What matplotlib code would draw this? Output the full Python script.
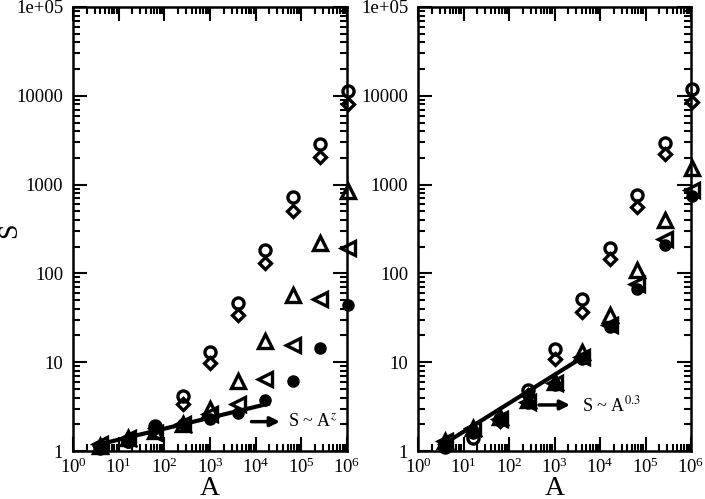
import matplotlib
matplotlib.use("Agg")
import matplotlib.pyplot as plt
from matplotlib.ticker import FixedLocator, FixedFormatter, LogLocator, NullFormatter

plt.rcParams['font.family'] = ['Liberation Serif', 'DejaVu Serif']
plt.rcParams['mathtext.fontset'] = 'stix'

# areas (powers of 4)
A = [4, 16, 64, 256, 1024, 4096, 16384, 65536, 262144, 1048576]

# left panel
left_circ = [1.1, 1.3, 1.9, 4.2, 13.0, 46, 185, 720, 2860, 11400]
left_diam = [1.15, 1.35, 1.8, 3.4, 9.7, 34, 130, 505, 2050, 8100]
left_tri = [1.15, 1.4, 1.7, 2.0, 2.95, 6.1, 17.5, 57, 218, 850]
left_ltri = [1.2, 1.4, 1.6, 2.0, 2.6, 3.4, 6.5, 15.8, 51, 195]
left_dot = [1.05, 1.25, 1.9, 2.0, 2.3, 2.7, 3.75, 6.2, 14.3, 44]
left_fit = ([3.3, 18600], [1.17, 3.4])

# right panel
right_circ = [1.1, 1.4, 2.3, 4.9, 14.2, 51, 192, 760, 2950, 12000]
right_diam = [1.2, 1.7, 2.2, 4.3, 11, 37, 144, 555, 2190, 8600]
right_tri = [1.3, 1.8, 2.4, 3.8, 6.0, 13.0, 34, 108, 400, 1520]
right_ltri = [1.3, 1.8, 2.3, 3.6, 5.8, 11.5, 26, 75, 245, 880]
right_dot = [1.1, 1.6, 2.2, 3.5, 5.5, 11, 25, 67, 210, 750]
right_fit = ([3.9, 4300], [1.22, 11.5])

ylabels = ['1', '10', '100', '1000', '10000', '1e+05']
yticks = [1, 10, 100, 1000, 10000, 1e5]

fig = plt.figure(figsize=(7.05, 4.99), dpi=100)
W, H = 705.0, 499.0


def panel(rect, circ, diam, tri, ltri, dot, fit, label, arrow):
    ax = fig.add_axes([rect[0] / W, (H - rect[3]) / H, (rect[2] - rect[0]) / W, (rect[3] - rect[1]) / H])
    ax.set_xscale('log')
    ax.set_yscale('log')
    ax.set_xlim(1, 1e6)
    ax.set_ylim(1, 1e5)
    kw = dict(ls='none', mfc='none', mec='black', mew=2.4, clip_on=False)
    ax.plot(A, circ, marker='o', ms=8, **kw)
    ax.plot(A, diam, marker='D', ms=6.5, **kw)
    ax.plot(A, tri, marker='^', ms=10, **kw)
    ax.plot(A, ltri, marker='<', ms=10, **kw)
    ax.plot(A, dot, marker='o', ms=8, ls='none', color='black', clip_on=False)
    ax.plot(fit[0], fit[1], color='black', lw=3)
    ax.annotate('', xy=arrow[1], xytext=arrow[0],
                arrowprops=dict(arrowstyle='-|>', color='black', lw=2.5, mutation_scale=14,
                                shrinkA=0, shrinkB=0))
    ax.text(arrow[2][0], arrow[2][1], label, fontsize=13, va='center', ha='left')

    ax.yaxis.set_major_locator(FixedLocator(yticks))
    ax.yaxis.set_major_formatter(FixedFormatter(ylabels))
    ax.xaxis.set_major_locator(LogLocator(base=10, numticks=10))
    ax.xaxis.set_minor_locator(LogLocator(base=10, subs=range(2, 10), numticks=20))
    ax.yaxis.set_minor_locator(LogLocator(base=10, subs=range(2, 10), numticks=20))
    ax.xaxis.set_minor_formatter(NullFormatter())
    ax.yaxis.set_minor_formatter(NullFormatter())
    ax.tick_params(which='both', direction='in', top=True, right=True, width=1.5, labelsize=13.5)
    ax.tick_params(which='major', length=10)
    ax.tick_params(axis='y', which='major', pad=7)
    ax.tick_params(axis='x', which='major', pad=5)
    ax.tick_params(which='minor', length=5)
    for s in ax.spines.values():
        s.set_linewidth(1.8)
    ax.set_xlabel('A', fontsize=20, labelpad=-1)
    return ax


panel((73, 7, 347, 451), left_circ, left_diam, left_tri, left_ltri, left_dot, left_fit,
      r'S ~ A$^{z}$', [(8100, 2.14), (34000, 2.14), (50000, 2.14)])
panel((418, 7, 691, 451), right_circ, right_diam, right_tri, right_ltri, right_dot, right_fit,
      r'S ~ A$^{0.3}$', [(457, 3.3), (2190, 3.3), (3970, 3.3)])

fig.text(10 / W, 1 - 230 / H, 'S', fontsize=20, rotation=90, ha='center', va='center')

fig.savefig('out.png', dpi=100)
